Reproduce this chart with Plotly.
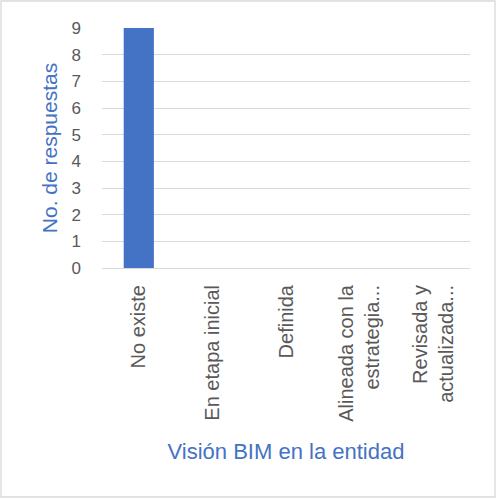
import plotly.graph_objects as go

# Survey responses: BIM vision within the organisation
categorias = [
    "No existe",
    "En etapa inicial",
    "Definida",
    "Alineada con la<br>estrategia...",
    "Revisada y<br>actualizada...",
]
respuestas = [9, 0, 0, 0, 0]
ticks_y = list(range(0, 10))

W, H = 496, 499
L, R, T, B = 102, 26, 28, 231
pw, ph = W - L - R, H - T - B

AZUL = "#4472C4"
GRIS_TXT = "#595959"
GRIS_LIN = "#D9D9D9"
FUENTE = "Liberation Sans"

fig = go.Figure(
    go.Bar(
        x=categorias,
        y=respuestas,
        marker=dict(color=AZUL, line=dict(width=0)),
        width=0.41,
    )
)


def px_x(p):
    return (p - L) / pw


def px_y(p):
    return (H - B - p) / ph


fig.update_layout(
    width=W,
    height=H,
    margin=dict(l=L, r=R, t=T, b=B, autoexpand=False),
    paper_bgcolor="white",
    plot_bgcolor="white",
    showlegend=False,
    font=dict(family=FUENTE, color=GRIS_TXT, size=17),
    xaxis=dict(
        tickangle=-90,
        tickfont=dict(size=20, color=GRIS_TXT),
        showgrid=False,
        showline=False,
        ticks="",
        ticklabelstandoff=12,
        automargin=False,
        title=dict(
            text="Visión BIM en la entidad",
            font=dict(size=22, color=AZUL),
            standoff=22,
        ),
    ),
    yaxis=dict(
        range=[0, 9],
        tickvals=ticks_y,
        tickfont=dict(size=17, color=GRIS_TXT),
        showgrid=True,
        gridcolor=GRIS_LIN,
        gridwidth=1.3,
        zeroline=True,
        zerolinecolor=GRIS_LIN,
        zerolinewidth=1.3,
        showline=False,
        ticks="",
        ticklabelstandoff=20,
        automargin=False,
        title=dict(
            text="No. de respuestas",
            font=dict(size=21, color=AZUL),
            standoff=8,
        ),
    ),
    shapes=[
        dict(
            type="rect",
            xref="paper",
            yref="paper",
            x0=px_x(1),
            x1=px_x(495),
            y0=px_y(1),
            y1=px_y(497),
            line=dict(color=GRIS_LIN, width=1.3),
            fillcolor="rgba(0,0,0,0)",
            layer="below",
        )
    ],
)

fig.write_html("out.html")
